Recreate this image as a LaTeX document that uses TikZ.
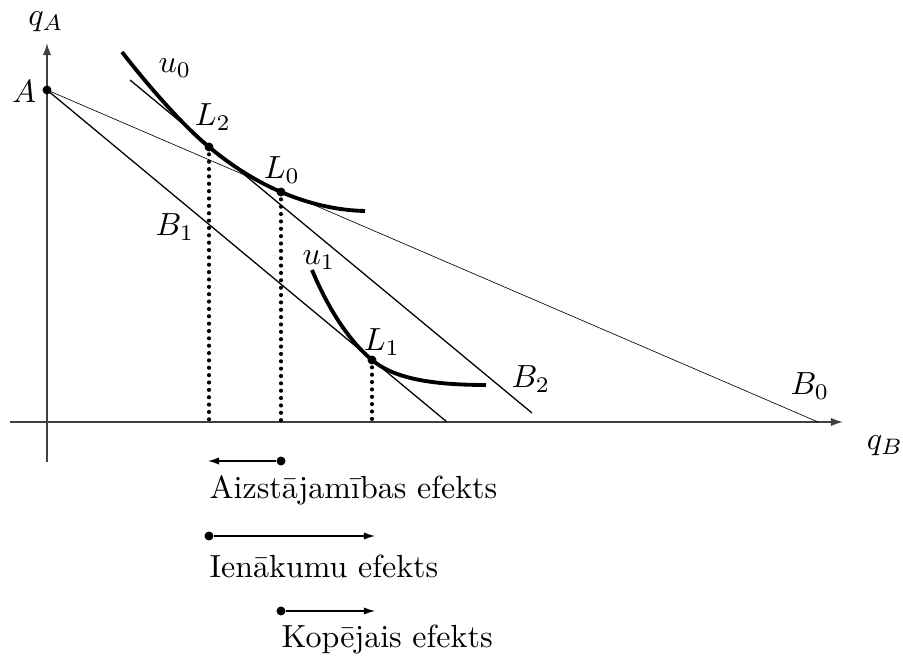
\documentclass[tikz,border=0pt]{standalone}
\usetikzlibrary{arrows.meta}
\begin{document}
\begin{tikzpicture}[x=0.3125pt,y=-0.3125pt,
  axisline/.style={line width=0.5pt,black!75,-{Latex[length=3.8pt,width=2.6pt]}},
  budget/.style={line width=0.4pt},
  thinbudget/.style={line width=0.2pt},
  indiff/.style={line width=1.2pt},
  dropline/.style={line width=1.3pt,line cap=round,dash pattern=on 0pt off 2.3pt},
  dotpt/.style={circle,fill,inner sep=0pt,minimum size=2.8pt},
  effarrow/.style={line width=0.4pt,-{Latex[length=3.5pt,width=2.3pt]}},
  lbl/.style={inner sep=0pt},
  efftext/.style={anchor=base west,inner sep=0pt}]
\useasboundingbox (0,0) rectangle (903,656);
% axes
\coordinate (xs) at (10,422);
\coordinate (xe) at (843,422);
\coordinate (ys) at (47,462);
\coordinate (ye) at (47,43);
\draw[axisline] (xs) -- (xe);
\draw[axisline] (ys) -- (ye);
\node[lbl] (qA) at (46,22) {$q_A$};
\node[lbl] (qB) at (885,446) {$q_B$};
% points
\coordinate (A) at (47,90);
\coordinate (B0) at (818,422);
\coordinate (B1e) at (447,422);
\coordinate (B2s) at (130,80);
\coordinate (B2e) at (532,413);
\coordinate (L2) at (209,147);
\coordinate (L0) at (281,192);
\coordinate (L1) at (372,360);
\coordinate (L2x) at (209,422);
\coordinate (L0x) at (281,422);
\coordinate (L1x) at (372,422);
\coordinate (u0s) at (122,52);
\coordinate (u0e) at (365,211);
\coordinate (u1s) at (312,270);
\coordinate (u1e) at (486,385);
% budget lines
\draw[thinbudget] (A) -- (B0);
\draw[budget] (A) -- (B1e);
\draw[budget] (B2s) -- (B2e);
% indifference curves
\draw[indiff] (u0s) .. controls (142,78) and (179,122.2) .. (L2)
  .. controls (233,166.9) and (257,181.7) .. (L0)
  .. controls (309,204) and (338,210.5) .. (u0e);
\draw[indiff] (u1s) .. controls (322,294) and (342,335) .. (L1)
  .. controls (392,376.6) and (425,385) .. (u1e);
% drop lines
\draw[dropline] (L2) -- (L2x);
\draw[dropline] (L0) -- (L0x);
\draw[dropline] (L1) -- (L1x);
% dots
\node[dotpt] (dA) at (A) {};
\node[dotpt] (dL2) at (L2) {};
\node[dotpt] (dL0) at (L0) {};
\node[dotpt] (dL1) at (L1) {};
% labels
\node[lbl] (lA) at (24,92) {$A$};
\node[lbl] (lu0) at (175,68) {$u_0$};
\node[lbl] (lL2) at (213,117) {$L_2$};
\node[lbl] (lL0) at (282,170) {$L_0$};
\node[lbl] (lB1) at (175,227) {$B_1$};
\node[lbl] (lu1) at (319,260) {$u_1$};
\node[lbl] (lL1) at (382,342) {$L_1$};
\node[lbl] (lB2) at (531,379) {$B_2$};
\node[lbl] (lB0) at (810,386) {$B_0$};
% effects
\node[dotpt] (e1s) at (281,461) {};
\coordinate (e1e) at (208,461);
\draw[effarrow] (e1s) -- (e1e);
\node[efftext] (t1) at (209,498) {Aizstājamības efekts};
\node[dotpt] (e2s) at (209,536) {};
\coordinate (e2e) at (375,536);
\draw[effarrow] (e2s) -- (e2e);
\node[efftext] (t2) at (209,577) {Ienākumu efekts};
\node[dotpt] (e3s) at (281,611) {};
\coordinate (e3e) at (375,611);
\draw[effarrow] (e3s) -- (e3e);
\node[efftext] (t3) at (281,647) {Kopējais efekts};
\end{tikzpicture}
\end{document}
